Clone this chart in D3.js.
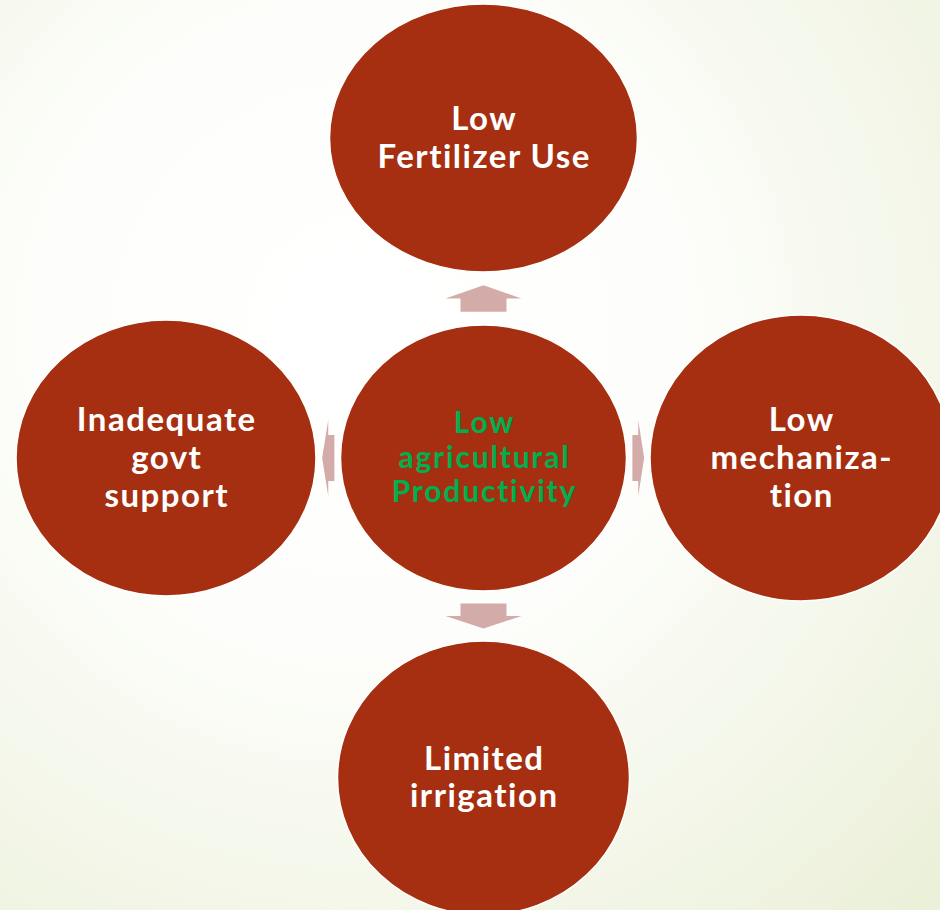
<!DOCTYPE html>
<html>
<head>
<meta charset="utf-8">
<script src="https://cdn.jsdelivr.net/npm/d3@7"></script>
<style>
  html, body { margin: 0; padding: 0; overflow: hidden; }
  body { width: 940px; height: 910px; }
  text {
    font-family: Lato, 'Open Sans', sans-serif;
    font-weight: 700;
    font-variant-ligatures: none;
    font-feature-settings: "liga" 0, "clig" 0;
  }
</style>
</head>
<body>
<div id="main-content"></div>
<script>
'use strict'

// nodes of the diagram, by role
const roles = ['center', 'top', 'right', 'bottom', 'left']
const labels = [
	['Low', 'agricultural', 'Productivity'],
	['Low', 'Fertilizer Use'],
	['Low', 'mechaniza-', 'tion'],
	['Limited', 'irrigation'],
	['Inadequate', 'govt', 'support']
]
// arrows go from the centre node out to each of these
const arrowTargets = ['top', 'right', 'bottom', 'left']

const width = 940,
		height = 910

// grid slot + ellipse size for every role
const layout = {
	center: { col: 'mid', row: 'mid', rx: 143, ry: 133, size: 30, ls: 1.8, lh: 34.5, fill: '#00b050' },
	top:    { col: 'mid', row: 'top', rx: 154, ry: 134, size: 33, ls: 1.5, lh: 38, fill: '#ffffff' },
	right:  { col: 'right', row: 'mid', rx: 151, ry: 143, size: 33, ls: 1.5, lh: 38, fill: '#ffffff' },
	bottom: { col: 'mid', row: 'bottom', rx: 146, ry: 137, size: 33, ls: 1.5, lh: 37, fill: '#ffffff' },
	left:   { col: 'left', row: 'mid', rx: 150, ry: 138, size: 33, ls: 1.5, lh: 38, fill: '#ffffff' }
}

const x = d3.scalePoint().domain(['left', 'mid', 'right']).range([166, 801])
const y = d3.scalePoint().domain(['top', 'mid', 'bottom']).range([138, 778])

const nodes = roles.map((r, i) => {
	const l = layout[r]
	return Object.assign({ role: r, lines: labels[i], cx: x(l.col), cy: y(l.row) }, l)
})
const byRole = {}
nodes.forEach(n => { byRole[n.role] = n })

const svg = d3.select('#main-content').append('svg')
	.attr('width', width)
	.attr('height', height)

const defs = svg.append('defs')
const grad = defs.append('radialGradient')
	.attr('id', 'bg')
	.attr('gradientUnits', 'userSpaceOnUse')
	.attr('cx', 360).attr('cy', 330).attr('r', 800)
grad.append('stop').attr('offset', '0%').attr('stop-color', '#ffffff')
grad.append('stop').attr('offset', '40%').attr('stop-color', '#fdfefb')
grad.append('stop').attr('offset', '100%').attr('stop-color', '#ebf0d9')

svg.append('rect')
	.attr('width', width)
	.attr('height', height)
	.attr('fill', 'url(#bg)')

// arrows sit in the gap between the centre ellipse and the outer one
const c = byRole.center
const dirs = { top: [0, -1], bottom: [0, 1], left: [-1, 0], right: [1, 0] }
const arrowPath = (role) => {
	const t = byRole[role]
	const [dx, dy] = dirs[role]
	const start = dx ? c.cx + dx * c.rx : c.cy + dy * c.ry
	const end = dx ? t.cx - dx * t.rx : t.cy - dy * t.ry
	const gap = end - start
	const len = gap / 2
	const s0 = start + gap / 4          // shaft foot
	const hb = s0 + len / 2             // head base
	const tip = s0 + len
	const hw = 38, sw = 23
	const mid = dx ? c.cy : c.cx
	let pts = [
		[s0, mid - sw], [hb, mid - sw], [hb, mid - hw], [tip, mid],
		[hb, mid + hw], [hb, mid + sw], [s0, mid + sw]
	]
	if (!dx) pts = pts.map(p => [p[1], p[0]])
	return d3.line()(pts) + 'Z'
}

svg.append('g').selectAll('path')
	.data(arrowTargets)
	.enter().append('path')
		.attr('d', arrowPath)
		.attr('fill', '#d3aca9')

const node = svg.append('g').selectAll('.node')
	.data(nodes)
	.enter().append('g')
		.attr('class', 'node')
		.attr('transform', d => `translate(${d.cx},${d.cy})`)

node.append('ellipse')
	.attr('rx', d => d.rx)
	.attr('ry', d => d.ry)
	.attr('fill', '#a52f10')
	.attr('stroke', '#ffffff')
	.attr('stroke-width', 1.5)

node.append('text')
	.attr('text-anchor', 'middle')
	.attr('fill', d => d.fill)
	.style('font-size', d => d.size + 'px')
	.style('letter-spacing', d => d.ls + 'px')
	.each(function(d) {
		const t = d3.select(this)
		const n = d.lines.length
		d.lines.forEach((line, i) => {
			t.append('tspan')
				.attr('x', d.ls / 2)
				.attr('y', (i - (n - 1) / 2) * d.lh + d.size * 0.33)
				.text(line)
		})
	})
</script>
</body>
</html>
